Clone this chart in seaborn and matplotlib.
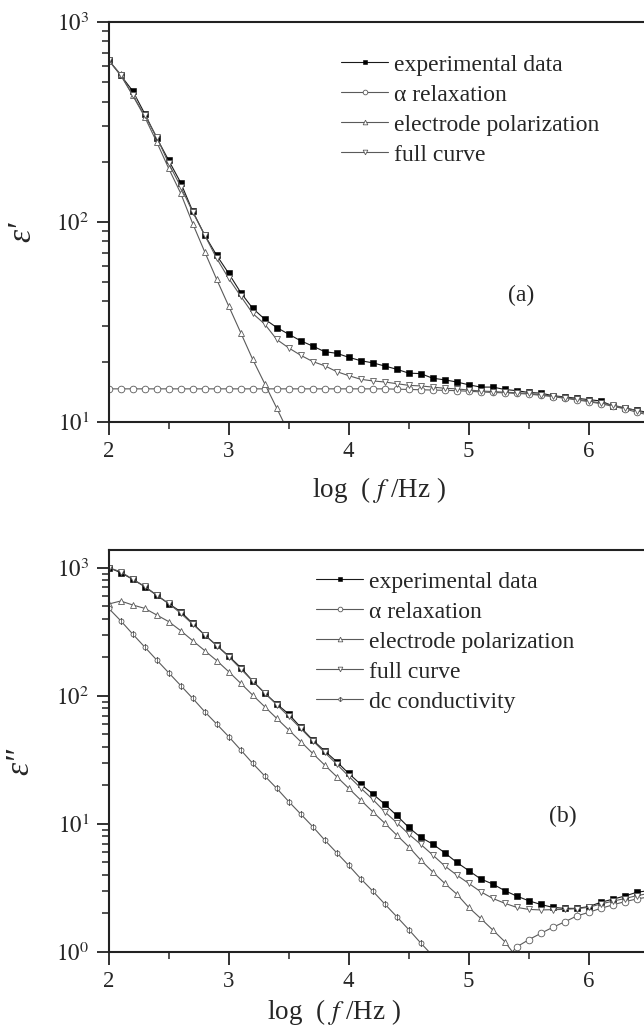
import matplotlib
matplotlib.use("Agg")
import matplotlib.pyplot as plt
import seaborn as sns
import numpy as np
from matplotlib.path import Path
from matplotlib.ticker import MultipleLocator, NullFormatter, FixedLocator

# ---------------- data ----------------
freq = [2.0, 2.1, 2.2, 2.3, 2.4, 2.5, 2.6, 2.7, 2.8, 2.9,
        3.0, 3.1, 3.2, 3.3, 3.4, 3.5, 3.6, 3.7, 3.8, 3.9,
        4.0, 4.1, 4.2, 4.3, 4.4, 4.5, 4.6, 4.7, 4.8, 4.9,
        5.0, 5.1, 5.2, 5.3, 5.4, 5.5, 5.6, 5.7, 5.8, 5.9,
        6.0, 6.1, 6.2, 6.3, 6.4, 6.5]

# panel (a): epsilon'
a_exp = [645, 541, 452, 348, 263, 203, 157, 113, 85.8, 68,
         55.2, 44.3, 36.9, 32.6, 29.6, 27.4, 25.4, 23.9, 22.4, 22.0,
         21.0, 20.2, 19.7, 19.0, 18.3, 17.5, 17.4, 16.5, 16.2, 15.8,
         15.3, 14.9, 14.9, 14.5, 14.3, 14.0, 13.9, 13.5, 13.3, 13.1,
         12.9, 12.7, 12.0, 11.7, 11.4, 11.1]
a_alpha = [14.6, 14.6, 14.6, 14.6, 14.6, 14.6, 14.6, 14.6, 14.6, 14.6,
           14.6, 14.6, 14.6, 14.6, 14.6, 14.6, 14.6, 14.6, 14.6, 14.6,
           14.6, 14.6, 14.6, 14.6, 14.55, 14.5, 14.45, 14.4, 14.35, 14.3,
           14.2, 14.1, 14.0, 13.95, 13.85, 13.75, 13.55, 13.35, 13.1, 12.85,
           12.6, 12.3, 11.95, 11.6, 11.15, 10.8]
a_ep_freq = [2.0, 2.1, 2.2, 2.3, 2.4, 2.5, 2.6, 2.7, 2.8, 2.9,
             3.0, 3.1, 3.2, 3.3, 3.4, 3.5]
a_ep = [640, 547, 430, 335, 251, 185, 139, 98, 70.8, 51.5,
        37.9, 27.9, 20.5, 15.5, 11.7, 8.8]
a_full = [645, 541, 430, 341, 266, 196, 150, 112, 85.8, 65.6,
          52.1, 42.5, 34.8, 30.8, 25.8, 23.4, 21.5, 20.0, 19.05, 17.8,
          17.0, 16.3, 16.0, 15.8, 15.5, 15.2, 15.1, 14.9, 14.7, 14.6,
          14.4, 14.25, 14.15, 14.05, 13.95, 13.85, 13.65, 13.45, 13.2, 12.95,
          12.7, 12.4, 12.1, 11.75, 11.35, 10.95]

# panel (b): epsilon''
b_exp = [1000, 914, 811, 711, 608, 524, 453, 367, 298, 247,
         204, 166, 130, 105, 86.1, 71.9, 56.6, 45.1, 37.0, 30.5,
         24.7, 20.3, 17.1, 14.2, 11.6, 9.36, 7.82, 6.93, 5.93, 4.99,
         4.30, 3.70, 3.38, 3.0, 2.72, 2.50, 2.34, 2.22, 2.18, 2.18,
         2.25, 2.43, 2.57, 2.72, 2.91, 3.0]
b_alpha_freq = [5.3, 5.4, 5.5, 5.6, 5.7, 5.8, 5.9, 6.0, 6.1, 6.2, 6.3, 6.4, 6.5]
b_alpha = [0.85, 1.09, 1.24, 1.39, 1.55, 1.71, 1.90, 2.03, 2.18, 2.32, 2.46, 2.58, 2.68]
b_ep_freq = [2.0, 2.1, 2.2, 2.3, 2.4, 2.5, 2.6, 2.7, 2.8, 2.9,
             3.0, 3.1, 3.2, 3.3, 3.4, 3.5, 3.6, 3.7, 3.8, 3.9,
             4.0, 4.1, 4.2, 4.3, 4.4, 4.5, 4.6, 4.7, 4.8, 4.9,
             5.0, 5.1, 5.2, 5.3, 5.4]
b_ep = [520, 549, 511, 481, 427, 379, 322, 269, 225, 188,
        154, 125, 101, 82, 66.5, 54, 43.8, 35.4, 28.7, 23.3,
        18.9, 15.3, 12.4, 10.1, 8.15, 6.61, 5.2, 4.2, 3.42, 2.82,
        2.22, 1.82, 1.48, 1.2, 0.9]
b_full = [1000, 930, 812, 715, 610, 525, 440, 362, 298, 246,
          202, 162, 130, 105, 85, 69, 55.5, 44.5, 36, 29.2,
          23.5, 19.0, 15.5, 12.4, 10.2, 8.3, 6.9, 5.7, 4.68, 3.97,
          3.42, 2.94, 2.61, 2.39, 2.22, 2.14, 2.12, 2.13, 2.14, 2.17,
          2.22, 2.36, 2.48, 2.6, 2.74, 2.85]
b_dc_freq = [2.0, 2.1, 2.2, 2.3, 2.4, 2.5, 2.6, 2.7, 2.8, 2.9,
             3.0, 3.1, 3.2, 3.3, 3.4, 3.5, 3.6, 3.7, 3.8, 3.9,
             4.0, 4.1, 4.2, 4.3, 4.4, 4.5, 4.6, 4.7]
b_dc = [481, 385, 303, 240, 190, 151, 120, 95.3, 75, 60,
        47.9, 37.7, 29.6, 23.6, 18.9, 14.9, 11.9, 9.49, 7.45, 5.93,
        4.72, 3.72, 2.98, 2.36, 1.88, 1.49, 1.17, 0.93]

labels = ["experimental data", "\u03b1 relaxation", "electrode polarization",
          "full curve", "dc conductivity"]
x_ticks = [2, 3, 4, 5, 6]
a_yticks = [10, 100, 1000]
a_yticklabels = [r"$10^{1}$", r"$10^{2}$", r"$10^{3}$"]
b_yticks = [1, 10, 100, 1000]
b_yticklabels = [r"$10^{0}$", r"$10^{1}$", r"$10^{2}$", r"$10^{3}$"]
xlabel_text = r"log  ( $\mathit{f}$ /Hz )"

# ---------------- style ----------------
sns.set_style("ticks")
plt.rcParams["font.family"] = ["Liberation Serif", "DejaVu Serif"]
plt.rcParams["mathtext.fontset"] = "stix"
plt.rcParams["axes.linewidth"] = 1.5
plt.rcParams["xtick.direction"] = "out"
plt.rcParams["ytick.direction"] = "out"

W, H = 644, 1034
fig = plt.figure(figsize=(W / 100, H / 100), dpi=100)
ax_a = fig.add_axes([108.7 / W, (H - 421.7) / H, 600 / W, 399.7 / H])
ax_b = fig.add_axes([108.7 / W, (H - 951.7) / H, 600 / W, 401.7 / H])

dc_marker = Path.make_compound_path(Path.unit_circle(),
                                    Path([(0, -1.35), (0, 1.35)], [Path.MOVETO, Path.LINETO]))

gray = "#5a5a5a"
exp_kw = dict(color="#1a1a1a", marker="s", markersize=4.2, markerfacecolor="black",
              markeredgecolor="black", markeredgewidth=0.4, linewidth=0.8)
open_kw = dict(color=gray, markersize=4.8, markerfacecolor="white",
               markeredgecolor=gray, markeredgewidth=0.6, linewidth=0.8)


def draw(ax, x, y, label, marker=None, exp=False):
    kw = dict(exp_kw) if exp else dict(open_kw, marker=marker)
    sns.lineplot(x=x, y=y, ax=ax, label=label, sort=False, estimator=None, **kw)


# panel (a)
draw(ax_a, freq, a_exp, labels[0], exp=True)
draw(ax_a, freq, a_alpha, labels[1], marker="o")
draw(ax_a, a_ep_freq, a_ep, labels[2], marker="^")
draw(ax_a, freq, a_full, labels[3], marker="v")

# panel (b)
draw(ax_b, freq, b_exp, labels[0], exp=True)
draw(ax_b, b_alpha_freq, b_alpha, labels[1], marker="o")
draw(ax_b, b_ep_freq, b_ep, labels[2], marker="^")
draw(ax_b, freq, b_full, labels[3], marker="v")
draw(ax_b, b_dc_freq, b_dc, labels[4], marker=dc_marker)

for ax, ylim, yt, ytl in [(ax_a, (10, 1000), a_yticks, a_yticklabels),
                          (ax_b, (1, 10 ** 3.138), b_yticks, b_yticklabels)]:
    ax.set_yscale("log")
    ax.set_xlim(2, 7)
    ax.set_ylim(*ylim)
    ax.set_xticks(x_ticks)
    ax.set_xticklabels([str(t) for t in x_ticks])
    ax.xaxis.set_minor_locator(MultipleLocator(0.5))
    ax.yaxis.set_major_locator(FixedLocator(yt))
    ax.set_yticklabels(ytl)
    ax.yaxis.set_minor_formatter(NullFormatter())
    ax.tick_params(which="major", length=9, width=1.3, labelsize=16.5, pad=5, color="#222222")
    ax.tick_params(which="minor", length=5, width=1.1, color="#222222")
    for s in ax.spines.values():
        s.set_linewidth(1.5)
        s.set_color("#222222")
    ax.set_xlabel(xlabel_text, fontsize=19.5)
    ax.xaxis.label.set_va("center")

ax_a.set_ylabel("\u03b5\u2032", fontsize=24, fontstyle="italic")
ax_b.set_ylabel("\u03b5\u2033", fontsize=24, fontstyle="italic")
for ax in (ax_a, ax_b):
    ax.yaxis.label.set_va("center")

ax_a.yaxis.set_label_coords(-0.1445, 0.4746)
ax_b.yaxis.set_label_coords(-0.148, 0.4747)
ax_a.xaxis.set_label_coords((378.8 - 108.7) / 600, (421.7 - 490) / 399.7)
ax_b.xaxis.set_label_coords((333.7 - 108.7) / 600, (951.7 - 1012) / 401.7)

leg_kw = dict(loc="upper left", frameon=False, fontsize=17, handlelength=2.0,
              handletextpad=0.25, labelspacing=0.36, borderpad=0, borderaxespad=0,
              markerscale=0.7)
ax_a.legend(bbox_to_anchor=((341 - 108.7) / 600, 1 - (54 - 22) / 399.7), **leg_kw)
ax_b.legend(bbox_to_anchor=((316 - 108.7) / 600, 1 - (571 - 550) / 401.7), **leg_kw)

ax_a.text((521.6 - 108.7) / 600, 1 - (295 - 22) / 399.7, "(a)", transform=ax_a.transAxes,
          fontsize=17, ha="center", va="center")
ax_b.text((562.6 - 108.7) / 600, 1 - (816.7 - 550) / 401.7, "(b)", transform=ax_b.transAxes,
          fontsize=17, ha="center", va="center")

fig.savefig("out.png", dpi=100)
